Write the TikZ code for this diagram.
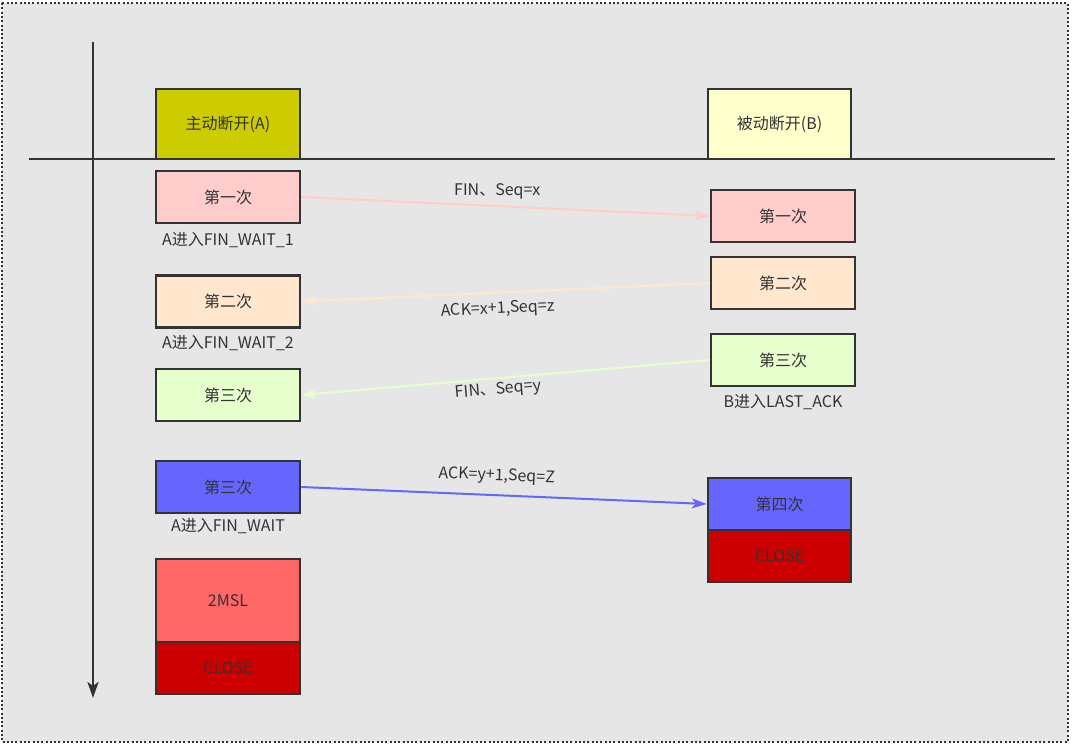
\documentclass[tikz,border=0pt]{standalone}
\usepackage{fontspec}
\setmainfont{Noto Sans CJK SC}
\usetikzlibrary{arrows.meta}
\definecolor{bg}{HTML}{E6E6E6}
\definecolor{ink}{HTML}{333333}
\definecolor{cA}{HTML}{CCCC00}
\definecolor{cB}{HTML}{FFFFCC}
\definecolor{cpink}{HTML}{FFCCCC}
\definecolor{corange}{HTML}{FFE6CC}
\definecolor{cgreen}{HTML}{E6FFCC}
\definecolor{cblue}{HTML}{6666FF}
\definecolor{cred}{HTML}{FF6666}
\definecolor{cdark}{HTML}{CC0000}
\tikzset{
  box/.style={draw=ink, line width=2.5pt, minimum width=144pt, minimum height=52pt, inner sep=0pt, text=ink, font=\fontsize{16}{19}\selectfont},
  lbl/.style={text=ink, inner sep=1pt, font=\fontsize{16}{19}\selectfont},
  msg/.style={line width=2pt, -{Stealth[length=15pt,width=10pt,inset=4pt]}},
}
\begin{document}
\begin{tikzpicture}[x=1pt,y=-1pt]
\useasboundingbox (0,0) rectangle (1073,747);
\fill[white] (0,0) rectangle (1073,747);
\draw[ink, fill=bg, line width=2pt, dash pattern=on 2pt off 2.3pt] (2,3) rectangle (1068,742);
% axes
\coordinate (vtop) at (93,42);
\coordinate (vbot) at (93,698);
\coordinate (hl) at (29,159);
\coordinate (hr) at (1055,159);
\draw[ink, line width=2.5pt, -{Stealth[length=16pt,width=11pt,inset=4pt]}] (vtop) -- (vbot);
\draw[ink, line width=2.5pt] (hl) -- (hr);
% header boxes
\node[box, fill=cA, minimum height=70pt] (hA) at (228,124) {主动断开(A)};
\node[box, fill=cB, minimum height=70pt, minimum width=143pt] (hB) at (779.5,124) {被动断开(B)};
% left column
\node[box, fill=cpink] (a1) at (228,197) {第一次};
\node[lbl] (t1) at (228,240) {A进入FIN\_WAIT\_1};
\node[box, fill=corange] (a2) at (228,301.5) {第二次};
\node[lbl] (t2) at (228,343) {A进入FIN\_WAIT\_2};
\node[box, fill=cgreen] (a3) at (228,395) {第三次};
\node[box, fill=cblue] (a4) at (228,487) {第三次};
\node[lbl] (t4) at (228,526) {A进入FIN\_WAIT};
\node[box, fill=cred, minimum height=83pt] (a5) at (228,600.5) {2MSL};
\node[box, fill=cdark] (a6) at (228,668) {CLOSE};
% right column
\node[box, fill=cpink] (b1) at (783,216) {第一次};
\node[box, fill=corange] (b2) at (783,283) {第二次};
\node[box, fill=cgreen] (b3) at (783,360) {第三次};
\node[lbl] (t3) at (783,402) {B进入LAST\_ACK};
\node[box, fill=cblue, minimum width=143pt] (b4) at (779.5,504) {第四次};
\node[box, fill=cdark, minimum width=143pt] (b5) at (779.5,556) {CLOSE};
% messages
\draw[msg, cpink] (a1.east) -- node[lbl, pos=0.48, above=5pt] {FIN、Seq=x} (b1.west);
\draw[msg, corange] (b2.west) -- node[lbl, pos=0.52, sloped, below=7pt] {ACK=x+1,Seq=z} (a2.east);
\draw[msg, cgreen] (b3.west) -- node[lbl, pos=0.52, sloped, below=2pt] {FIN、Seq=y} (a3.east);
\draw[msg, cblue] (a4.east) -- node[lbl, pos=0.48, sloped, above=9pt] {ACK=y+1,Seq=Z} (b4.west);
\end{tikzpicture}
\end{document}
